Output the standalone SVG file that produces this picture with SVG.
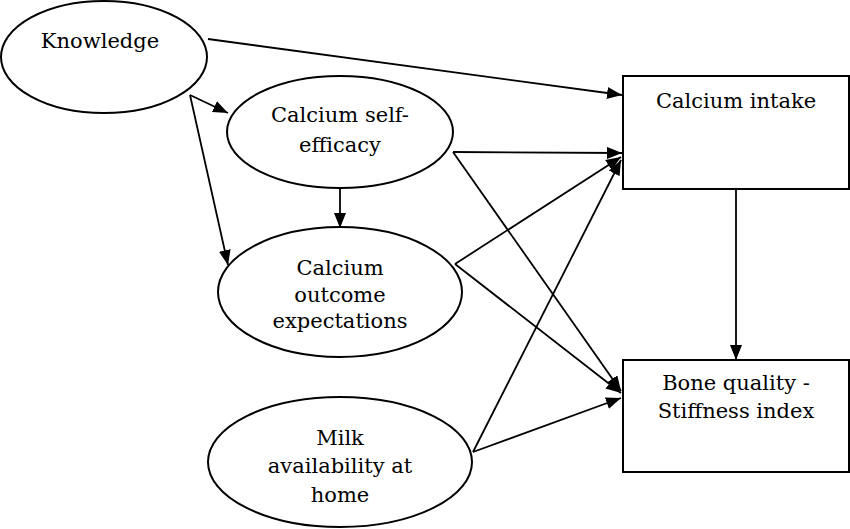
<svg xmlns="http://www.w3.org/2000/svg" width="850" height="529" viewBox="0 0 850 529">
<style>
.n{fill:#fff;stroke:#000;stroke-width:2}
.t{font-family:"DejaVu Serif","Liberation Serif",serif;font-size:21px;fill:#000;text-anchor:middle}
.c line{stroke:#000;stroke-width:1.8;marker-end:url(#ah)}
</style>
<defs>
<marker id="ah" markerUnits="userSpaceOnUse" markerWidth="16" markerHeight="12" refX="15" refY="6" orient="auto">
<path d="M0,0 L15,6 L0,12 z" fill="#000"/>
</marker>
</defs>
<rect width="850" height="529" fill="#fff"/>
<g id="knowledge"><ellipse class="n" cx="104" cy="57" rx="103" ry="56"/><text class="t" x="100" y="48">Knowledge</text></g>
<g id="self-efficacy"><ellipse class="n" cx="340" cy="132" rx="113" ry="56"/><text class="t" x="340" y="122">Calcium self-</text><text class="t" x="340" y="152">efficacy</text></g>
<g id="outcome"><ellipse class="n" cx="340" cy="292" rx="122" ry="65"/><text class="t" x="340" y="275">Calcium</text><text class="t" x="340" y="302">outcome</text><text class="t" x="340" y="328">expectations</text></g>
<g id="milk"><ellipse class="n" cx="340" cy="462" rx="132" ry="65"/><text class="t" x="340" y="445">Milk</text><text class="t" x="340" y="473">availability at</text><text class="t" x="340" y="502">home</text></g>
<g id="intake"><rect class="n" x="623" y="76" width="226" height="113"/><text class="t" x="736" y="108">Calcium intake</text></g>
<g id="bone"><rect class="n" x="623" y="360" width="226" height="112"/><text class="t" x="736" y="390">Bone quality -</text><text class="t" x="736" y="418">Stiffness index</text></g>
<g class="c" id="connectors">
<line x1="208" y1="39" x2="622" y2="95"/>
<line x1="190" y1="95" x2="228" y2="113"/>
<line x1="190" y1="95" x2="228" y2="265"/>
<line x1="340" y1="188" x2="340" y2="228"/>
<line x1="453" y1="152" x2="622" y2="153"/>
<line x1="453" y1="152" x2="621" y2="391"/>
<line x1="455" y1="264" x2="621" y2="157"/>
<line x1="455" y1="264" x2="621" y2="393"/>
<line x1="473" y1="452" x2="621" y2="160"/>
<line x1="473" y1="452" x2="621" y2="398"/>
<line x1="736" y1="189" x2="736" y2="360"/>
</g>
</svg>
